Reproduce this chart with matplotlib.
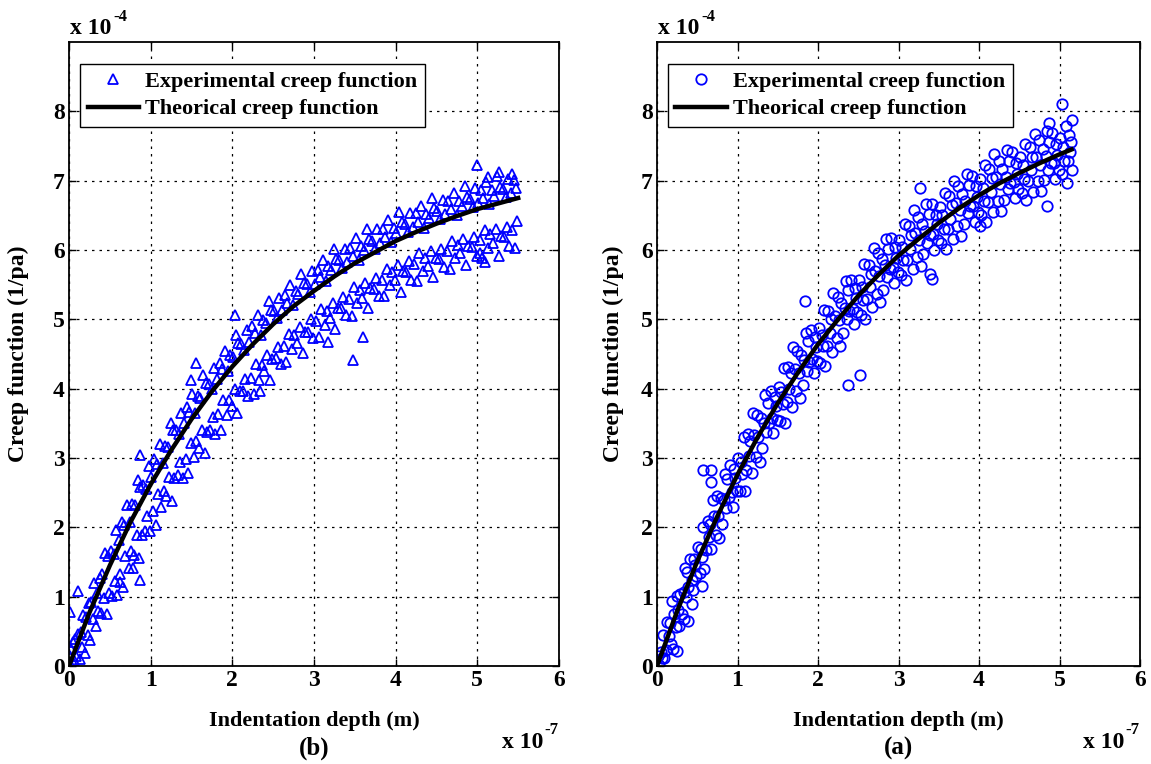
import numpy as np
import matplotlib
matplotlib.use("Agg")
import matplotlib.pyplot as plt

plt.rcParams['font.family'] = ['Liberation Serif', 'DejaVu Serif']
plt.rcParams['font.weight'] = 'bold'

# panel (b): depth in 1e-7 m, creep in 1e-4 1/pa
exp_b = [
    (0.01, 0.15), (0.03, 0.02), (0.045, 0.34), (0.06, 0.09), (0.075, 0.39), (0.09, 0.14), (0.01, 0.78), (0.02, 0.25),
    (0.11, 0.46), (0.13, 0.10), (0.145, 0.49), (0.16, 0.27), (0.175, 0.74), (0.19, 0.19), (0.11, 1.08),
    (0.21, 0.70), (0.23, 0.44), (0.245, 0.91), (0.26, 0.37), (0.275, 0.92), (0.29, 0.68),
    (0.31, 1.19), (0.33, 0.58), (0.345, 1.05), (0.36, 0.79), (0.375, 1.27), (0.39, 0.77),
    (0.41, 1.32), (0.43, 0.98), (0.445, 1.63), (0.46, 0.75), (0.475, 1.58), (0.49, 1.05),
    (0.51, 1.66), (0.53, 1.01), (0.545, 1.62), (0.56, 1.23), (0.575, 1.96), (0.59, 1.02),
    (0.61, 1.82), (0.63, 1.33), (0.645, 2.08), (0.66, 1.14), (0.675, 2.03), (0.69, 1.59), (0.62, 1.21),
    (0.71, 2.32), (0.73, 1.42), (0.745, 2.07), (0.76, 1.66), (0.775, 2.33), (0.79, 1.60), (0.78, 1.41),
    (0.81, 2.32), (0.83, 1.89), (0.845, 2.68), (0.86, 1.56), (0.875, 2.58), (0.89, 1.89), (0.87, 1.24), (0.87, 3.04),
    (0.91, 2.61), (0.93, 1.95), (0.945, 2.56), (0.96, 2.16), (0.975, 2.88), (0.99, 1.94),
    (1.01, 2.73), (1.03, 2.23), (1.045, 2.98), (1.06, 2.03), (1.075, 2.91), (1.09, 2.48),
    (1.11, 3.20), (1.13, 2.29), (1.145, 2.93), (1.16, 2.52), (1.175, 3.18), (1.19, 2.45),
    (1.21, 3.16), (1.23, 2.72), (1.245, 3.50), (1.26, 2.38), (1.275, 3.40), (1.29, 2.71),
    (1.31, 3.41), (1.33, 2.75), (1.345, 3.34), (1.36, 2.94), (1.375, 3.65), (1.39, 2.71),
    (1.41, 3.50), (1.43, 2.99), (1.445, 3.74), (1.46, 2.78), (1.475, 3.66), (1.49, 3.21), (1.49, 4.13),
    (1.51, 3.93), (1.53, 3.01), (1.545, 3.65), (1.56, 3.24), (1.575, 3.89), (1.59, 3.15), (1.55, 4.37),
    (1.61, 3.86), (1.63, 3.41), (1.645, 4.19), (1.66, 3.07), (1.675, 4.08), (1.69, 3.38),
    (1.71, 4.07), (1.73, 3.40), (1.745, 3.99), (1.76, 3.59), (1.775, 4.30), (1.79, 3.35),
    (1.81, 4.14), (1.83, 3.63), (1.845, 4.37), (1.86, 3.41), (1.875, 4.28), (1.89, 3.83),
    (1.91, 4.54), (1.93, 3.62), (1.945, 4.26), (1.96, 3.84), (1.975, 4.49), (1.99, 3.75),
    (2.01, 4.45), (2.03, 4.00), (2.045, 4.78), (2.06, 3.65), (2.075, 4.66), (2.09, 3.96), (2.03, 5.06),
    (2.11, 4.64), (2.13, 3.97), (2.145, 4.56), (2.16, 4.14), (2.175, 4.85), (2.19, 3.90),
    (2.21, 4.68), (2.23, 4.16), (2.245, 4.90), (2.26, 3.93), (2.275, 4.80), (2.29, 4.35),
    (2.31, 5.06), (2.33, 4.13), (2.345, 4.77), (2.36, 4.34), (2.375, 4.99), (2.39, 4.25), (2.34, 3.96),
    (2.41, 4.95), (2.43, 4.49), (2.445, 5.26), (2.46, 4.12), (2.475, 5.13), (2.49, 4.43),
    (2.51, 5.12), (2.53, 4.44), (2.545, 5.02), (2.56, 4.60), (2.575, 5.31), (2.59, 4.35),
    (2.61, 5.14), (2.63, 4.62), (2.645, 5.35), (2.66, 4.38), (2.675, 5.24), (2.69, 4.79),
    (2.71, 5.50), (2.73, 4.57), (2.745, 5.20), (2.76, 4.77), (2.775, 5.41), (2.79, 4.66),
    (2.81, 5.36), (2.83, 4.89), (2.845, 5.66), (2.86, 4.52), (2.875, 5.52), (2.89, 4.82),
    (2.91, 5.51), (2.93, 4.82), (2.945, 5.40), (2.96, 5.00), (2.975, 5.69), (2.99, 4.73),
    (3.01, 5.51), (3.03, 4.98), (3.045, 5.71), (3.06, 4.74), (3.075, 5.61), (3.09, 5.15),
    (3.11, 5.86), (3.13, 4.92), (3.145, 5.55), (3.16, 5.12), (3.175, 5.77), (3.19, 5.02), (3.17, 4.68),
    (3.21, 5.71), (3.23, 5.24), (3.245, 6.01), (3.26, 4.86), (3.275, 5.87), (3.29, 5.17),
    (3.31, 5.85), (3.33, 5.16), (3.345, 5.74), (3.36, 5.32), (3.375, 6.01), (3.39, 5.06),
    (3.41, 5.83), (3.43, 5.30), (3.445, 6.03), (3.46, 5.05), (3.475, 5.92), (3.49, 5.47), (3.48, 4.42),
    (3.51, 6.17), (3.53, 5.23), (3.545, 5.85), (3.56, 5.42), (3.575, 6.06), (3.59, 5.31),
    (3.61, 6.00), (3.63, 5.53), (3.645, 6.30), (3.66, 5.16), (3.675, 6.16), (3.69, 5.45), (3.60, 4.74),
    (3.71, 6.13), (3.73, 5.44), (3.745, 6.02), (3.76, 5.60), (3.775, 6.30), (3.79, 5.34),
    (3.81, 6.10), (3.83, 5.57), (3.845, 6.30), (3.86, 5.33), (3.875, 6.19), (3.89, 5.73),
    (3.91, 6.43), (3.93, 5.49), (3.945, 6.11), (3.96, 5.68), (3.975, 6.32), (3.99, 5.57),
    (4.01, 6.25), (4.03, 5.78), (4.045, 6.55), (4.06, 5.40), (4.075, 6.41), (4.09, 5.70),
    (4.11, 6.37), (4.13, 5.68), (4.145, 6.26), (4.16, 5.84), (4.175, 6.53), (4.19, 5.57),
    (4.21, 6.33), (4.23, 5.80), (4.245, 6.53), (4.26, 5.55), (4.275, 6.41), (4.29, 5.95),
    (4.31, 6.64), (4.33, 5.69), (4.345, 6.32), (4.36, 5.89), (4.375, 6.52), (4.39, 5.77),
    (4.41, 6.46), (4.43, 5.98), (4.445, 6.75), (4.46, 5.61), (4.475, 6.60), (4.49, 5.89),
    (4.51, 6.56), (4.53, 5.87), (4.545, 6.45), (4.56, 6.02), (4.575, 6.72), (4.59, 5.76),
    (4.61, 6.52), (4.63, 5.98), (4.645, 6.71), (4.66, 5.73), (4.675, 6.59), (4.69, 6.13),
    (4.71, 6.82), (4.73, 5.88), (4.745, 6.50), (4.76, 6.07), (4.775, 6.70), (4.79, 5.95),
    (4.81, 6.63), (4.83, 6.16), (4.845, 6.93), (4.86, 5.78), (4.875, 6.77), (4.89, 6.06),
    (4.91, 6.73), (4.93, 6.04), (4.945, 6.62), (4.96, 6.19), (4.975, 6.89), (4.99, 5.92), (4.99, 7.23),
    (5.01, 6.68), (5.03, 6.14), (5.045, 6.87), (5.06, 5.89), (5.075, 6.75), (5.09, 6.29), (5.09, 5.82), (5.03, 5.96),
    (5.11, 6.98), (5.13, 6.03), (5.145, 6.66), (5.16, 6.23), (5.175, 6.86), (5.19, 6.10), (5.13, 7.05),
    (5.21, 6.78), (5.23, 6.31), (5.245, 7.07), (5.26, 5.92), (5.275, 6.91), (5.29, 6.20), (5.27, 7.12),
    (5.31, 6.88), (5.33, 6.19), (5.345, 6.76), (5.36, 6.33), (5.375, 7.02), (5.39, 6.06),
    (5.41, 6.82), (5.43, 6.29), (5.445, 7.01), (5.46, 6.03), (5.475, 6.89), (5.49, 6.42), (5.42, 7.09),
]
fit_b_x = [0.0, 0.25, 0.5, 0.75, 1.0, 1.25, 1.5, 1.75, 2.0, 2.25, 2.5, 2.75, 3.0, 3.25, 3.5,
           3.75, 4.0, 4.25, 4.5, 4.75, 5.0, 5.25, 5.5]
fit_b_y = [0.0, 0.77, 1.45, 2.07, 2.62, 3.11, 3.56, 3.96, 4.32, 4.64, 4.93, 5.19, 5.41, 5.62, 5.81,
           5.97, 6.13, 6.26, 6.38, 6.49, 6.59, 6.67, 6.75]

# panel (a)
exp_a = [
    (0.01, 0.15), (0.03, 0.02), (0.045, 0.20), (0.06, 0.12), (0.075, 0.45), (0.09, 0.12),
    (0.11, 0.23), (0.13, 0.63), (0.145, 0.43), (0.16, 0.62), (0.175, 0.32), (0.19, 0.94),
    (0.21, 0.75), (0.23, 0.56), (0.245, 1.01), (0.26, 0.81), (0.275, 0.58), (0.29, 1.04), (0.20, 0.24), (0.25, 0.22),
    (0.31, 0.75), (0.33, 1.07), (0.345, 1.41), (0.36, 0.99), (0.375, 1.36), (0.39, 1.14), (0.33, 0.68), (0.38, 0.65),
    (0.41, 1.54), (0.43, 1.24), (0.445, 1.10), (0.46, 1.54), (0.475, 1.45), (0.49, 1.30), (0.43, 0.89),
    (0.51, 1.72), (0.53, 1.34), (0.545, 1.69), (0.56, 1.57), (0.575, 2.01), (0.59, 1.40), (0.57, 2.83), (0.56, 1.15),
    (0.61, 1.67), (0.63, 2.09), (0.645, 1.86), (0.66, 2.05), (0.675, 1.69), (0.69, 2.40), (0.67, 2.83), (0.67, 2.65),
    (0.71, 2.16), (0.73, 1.89), (0.745, 2.45), (0.76, 2.16), (0.775, 1.85), (0.79, 2.43),
    (0.81, 2.05), (0.83, 2.40), (0.845, 2.77), (0.86, 2.28), (0.875, 2.69), (0.89, 2.44),
    (0.91, 2.90), (0.93, 2.51), (0.945, 2.30), (0.96, 2.84), (0.975, 2.71), (0.99, 2.52),
    (1.01, 3.00), (1.03, 2.52), (1.045, 2.94), (1.06, 2.77), (1.075, 3.31), (1.09, 2.52),
    (1.11, 2.82), (1.13, 3.34), (1.145, 3.03), (1.16, 3.25), (1.175, 2.78), (1.19, 3.65),
    (1.21, 3.33), (1.23, 3.02), (1.245, 3.62), (1.26, 3.30), (1.275, 2.94), (1.29, 3.57),
    (1.31, 3.14), (1.33, 3.51), (1.345, 3.91), (1.36, 3.37), (1.375, 3.80), (1.39, 3.51),
    (1.41, 3.97), (1.43, 3.57), (1.445, 3.36), (1.46, 3.88), (1.475, 3.75), (1.49, 3.55),
    (1.51, 4.03), (1.53, 3.53), (1.545, 3.95), (1.56, 3.78), (1.575, 4.30), (1.59, 3.51),
    (1.61, 3.81), (1.63, 4.31), (1.645, 4.00), (1.66, 4.22), (1.675, 3.74), (1.69, 4.60),
    (1.71, 4.28), (1.73, 3.96), (1.745, 4.55), (1.76, 4.23), (1.775, 3.86), (1.79, 4.49),
    (1.81, 4.06), (1.83, 4.41), (1.845, 4.81), (1.86, 4.26), (1.875, 4.69), (1.89, 4.39), (1.84, 5.27),
    (1.91, 4.85), (1.93, 4.43), (1.945, 4.22), (1.96, 4.74), (1.975, 4.60), (1.99, 4.40),
    (2.01, 4.88), (2.03, 4.37), (2.045, 4.78), (2.06, 4.61), (2.075, 5.13), (2.09, 4.33),
    (2.11, 4.62), (2.13, 5.12), (2.145, 4.80), (2.16, 5.01), (2.175, 4.53), (2.19, 5.38),
    (2.21, 5.05), (2.23, 4.73), (2.245, 5.32), (2.26, 4.99), (2.275, 4.62), (2.29, 5.24),
    (2.31, 4.80), (2.33, 5.16), (2.345, 5.55), (2.36, 5.00), (2.375, 5.42), (2.39, 5.12), (2.37, 4.06),
    (2.41, 5.57), (2.43, 5.15), (2.445, 4.93), (2.46, 5.45), (2.475, 5.31), (2.49, 5.10),
    (2.51, 5.57), (2.53, 5.06), (2.545, 5.47), (2.56, 5.28), (2.575, 5.80), (2.59, 5.00), (2.52, 4.19),
    (2.61, 5.29), (2.63, 5.78), (2.645, 5.46), (2.66, 5.66), (2.675, 5.18), (2.69, 6.03),
    (2.71, 5.70), (2.73, 5.37), (2.745, 5.96), (2.76, 5.62), (2.775, 5.25), (2.79, 5.87),
    (2.81, 5.43), (2.83, 5.78), (2.845, 6.16), (2.86, 5.61), (2.875, 6.02), (2.89, 5.72),
    (2.91, 6.17), (2.93, 5.75), (2.945, 5.52), (2.96, 6.04), (2.975, 5.89), (2.99, 5.68),
    (3.01, 6.15), (3.03, 5.64), (3.045, 6.04), (3.06, 5.86), (3.075, 6.37), (3.09, 5.57),
    (3.11, 5.85), (3.13, 6.34), (3.145, 6.01), (3.16, 6.21), (3.175, 5.73), (3.19, 6.57),
    (3.21, 6.24), (3.23, 5.90), (3.245, 6.48), (3.26, 6.14), (3.275, 5.77), (3.29, 6.38), (3.27, 6.89),
    (3.31, 5.94), (3.33, 6.28), (3.345, 6.66), (3.36, 6.10), (3.375, 6.52), (3.39, 6.21),
    (3.41, 6.66), (3.43, 6.23), (3.445, 6.00), (3.46, 6.51), (3.475, 6.37), (3.49, 6.15), (3.39, 5.65), (3.41, 5.58),
    (3.51, 6.62), (3.53, 6.10), (3.545, 6.50), (3.56, 6.31), (3.575, 6.82), (3.59, 6.01),
    (3.61, 6.30), (3.63, 6.78), (3.645, 6.45), (3.66, 6.65), (3.675, 6.16), (3.69, 7.00),
    (3.71, 6.68), (3.73, 6.34), (3.745, 6.92), (3.76, 6.58), (3.775, 6.20), (3.79, 6.81),
    (3.81, 6.37), (3.83, 6.71), (3.845, 7.09), (3.86, 6.53), (3.875, 6.94), (3.89, 6.63),
    (3.91, 7.07), (3.93, 6.64), (3.945, 6.41), (3.96, 6.92), (3.975, 6.77), (3.99, 6.55),
    (4.01, 7.02), (4.03, 6.50), (4.045, 6.90), (4.06, 6.71), (4.075, 7.22), (4.09, 6.41), (4.01, 6.34),
    (4.11, 6.69), (4.13, 7.17), (4.145, 6.84), (4.16, 7.04), (4.175, 6.55), (4.19, 7.39),
    (4.21, 7.05), (4.23, 6.71), (4.245, 7.29), (4.26, 6.95), (4.275, 6.56), (4.29, 7.17),
    (4.31, 6.72), (4.33, 7.06), (4.345, 7.44), (4.36, 6.88), (4.375, 7.28), (4.39, 6.97),
    (4.41, 7.41), (4.43, 6.98), (4.445, 6.75), (4.46, 7.25), (4.475, 7.10), (4.49, 6.88),
    (4.51, 7.34), (4.53, 6.82), (4.545, 7.22), (4.56, 7.02), (4.575, 7.53), (4.59, 6.72),
    (4.61, 7.00), (4.63, 7.48), (4.645, 7.15), (4.66, 7.34), (4.675, 6.84), (4.69, 7.68),
    (4.71, 7.34), (4.73, 7.00), (4.745, 7.58), (4.76, 7.23), (4.775, 6.85), (4.79, 7.46),
    (4.81, 7.01), (4.83, 7.35), (4.845, 7.72), (4.86, 7.16), (4.875, 7.56), (4.89, 7.25), (4.84, 6.63), (4.87, 7.83),
    (4.91, 7.69), (4.93, 7.26), (4.945, 7.03), (4.96, 7.53), (4.975, 7.37), (4.99, 7.15),
    (5.01, 7.61), (5.03, 7.09), (5.045, 7.48), (5.06, 7.29), (5.075, 7.79), (5.09, 6.97), (5.03, 8.10),
    (5.11, 7.29), (5.12, 7.66), (5.13, 7.41), (5.14, 7.56), (5.15, 7.16), (5.16, 7.88),
]
fit_a_x = [0.0, 0.25, 0.5, 0.75, 1.0, 1.25, 1.5, 1.75, 2.0, 2.25, 2.5, 2.75, 3.0, 3.25, 3.5,
           3.75, 4.0, 4.25, 4.5, 4.75, 5.0, 5.15]
fit_a_y = [0.0, 0.79, 1.51, 2.16, 2.76, 3.30, 3.79, 4.23, 4.64, 5.00, 5.34, 5.64, 5.92, 6.16, 6.39,
           6.60, 6.79, 6.96, 7.11, 7.25, 7.38, 7.45]

xticks = [0, 1, 2, 3, 4, 5, 6]
yticks = [0, 1, 2, 3, 4, 5, 6, 7, 8]

W, H = 1151, 764
fig = plt.figure(figsize=(W / 100, H / 100), dpi=100)


def px(x, y):
    # figure pixel (from top-left) -> figure fraction
    return x / W, 1 - y / H


panels = [
    (69, 490, exp_b, fit_b_x, fit_b_y, '^', '(b)', 29),
    (657, 483, exp_a, fit_a_x, fit_a_y, 'o', '(a)', 624),
]

for left, width, pts, fx, fy, mk, tag, ylab_x in panels:
    ax = fig.add_axes([left / W, (H - 666) / H, width / W, (666 - 42) / H])
    pts = np.array(pts)
    ax.plot(pts[:, 0], pts[:, 1], linestyle='none', marker=mk, markersize=7.5,
            markerfacecolor='none', markeredgecolor='#0000ff', markeredgewidth=1.3,
            label='Experimental creep function')
    ax.plot(fx, fy, color='black', linewidth=3.2, label='Theorical creep function')
    ax.set_xlim(0, 6)
    ax.set_ylim(0, 9)
    ax.set_xticks(xticks)
    ax.set_yticks(yticks)
    ax.grid(True, color='black', linestyle=(0, (2, 4)), linewidth=0.9)
    ax.tick_params(direction='in', top=True, right=True, labelsize=17, length=5,
                   width=1, pad=3)
    for lab in ax.get_xticklabels() + ax.get_yticklabels():
        lab.set_fontweight('bold')
    for sp in ax.spines.values():
        sp.set_linewidth(1.3)
    ax.set_xlabel('Indentation depth (m)', fontsize=16, fontweight='bold')
    ax.xaxis.set_label_coords(0.5, -(711 - 666) / 624)
    ax.set_ylabel('Creep function (1/pa)', fontsize=17, fontweight='bold')
    ax.yaxis.set_label_coords((ylab_x - left) / width, 0.5)
    leg = ax.legend(loc='upper left', bbox_to_anchor=(0.022, 0.965), fontsize=16,
                    fancybox=False, framealpha=1, edgecolor='black', borderpad=0.35,
                    handlelength=2.3, handletextpad=0.3, labelspacing=0.3, borderaxespad=0)
    leg.get_frame().set_linewidth(1.0)
    for t in leg.get_texts():
        t.set_fontweight('bold')

    right = left + width
    fig.text(*px(left + 1, 29), 'x 10', fontsize=17, fontweight='bold', ha='left', va='center')
    fig.text(*px(left + 44, 17), '-4', fontsize=12, fontweight='bold', ha='left', va='center')
    fig.text(*px(right - 57, 742), 'x 10', fontsize=17, fontweight='bold', ha='left', va='center')
    fig.text(*px(right - 15, 730), '-7', fontsize=12, fontweight='bold', ha='left', va='center')
    fig.text(*px(left + width / 2, 748), tag, fontsize=18, fontweight='bold',
             ha='center', va='center')

fig.savefig('out.png', dpi=100)
